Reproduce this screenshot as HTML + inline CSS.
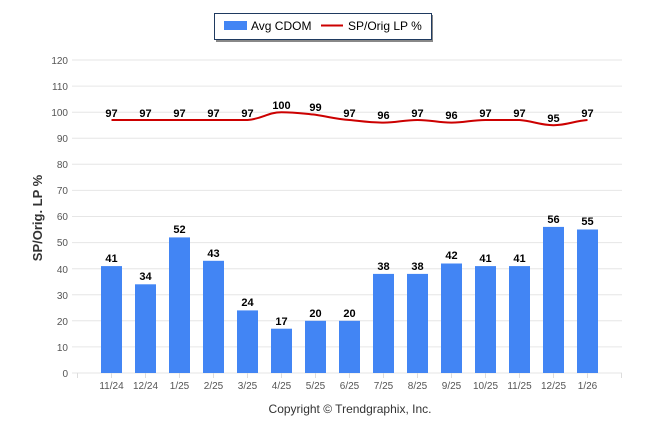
<!DOCTYPE html>
<html><head><meta charset="utf-8"><style>
html,body{margin:0;padding:0;background:#fff;}
svg{display:block;font-family:"Liberation Sans",sans-serif;}
</style></head><body>
<svg width="646" height="434" viewBox="0 0 646 434">
<g stroke="#e6e6e6" stroke-width="1">
<line x1="72" x2="622" y1="346.9" y2="346.9"/><line x1="72" x2="622" y1="320.8" y2="320.8"/>
<line x1="72" x2="622" y1="294.8" y2="294.8"/><line x1="72" x2="622" y1="268.7" y2="268.7"/>
<line x1="72" x2="622" y1="242.6" y2="242.6"/><line x1="72" x2="622" y1="216.5" y2="216.5"/>
<line x1="72" x2="622" y1="190.4" y2="190.4"/><line x1="72" x2="622" y1="164.3" y2="164.3"/>
<line x1="72" x2="622" y1="138.3" y2="138.3"/><line x1="72" x2="622" y1="112.2" y2="112.2"/>
<line x1="72" x2="622" y1="86.1" y2="86.1"/><line x1="72" x2="622" y1="60" y2="60"/>
<line x1="72" x2="622" y1="373" y2="373"/>
</g>
<g stroke="#ddd">
<line x1="77.5" x2="77.5" y1="373" y2="378"/><line x1="111.5" x2="111.5" y1="373" y2="378"/><line x1="145.5" x2="145.5" y1="373" y2="378"/><line x1="179.5" x2="179.5" y1="373" y2="378"/><line x1="213.5" x2="213.5" y1="373" y2="378"/><line x1="247.5" x2="247.5" y1="373" y2="378"/><line x1="281.5" x2="281.5" y1="373" y2="378"/><line x1="315.5" x2="315.5" y1="373" y2="378"/><line x1="349.5" x2="349.5" y1="373" y2="378"/><line x1="383.5" x2="383.5" y1="373" y2="378"/><line x1="417.5" x2="417.5" y1="373" y2="378"/><line x1="451.5" x2="451.5" y1="373" y2="378"/><line x1="485.5" x2="485.5" y1="373" y2="378"/><line x1="519.5" x2="519.5" y1="373" y2="378"/><line x1="553.5" x2="553.5" y1="373" y2="378"/><line x1="587.5" x2="587.5" y1="373" y2="378"/><line x1="621.5" x2="621.5" y1="373" y2="378"/>
</g>
<g font-size="10" fill="#555" text-anchor="end">
<text x="68" y="377">0</text><text x="68" y="351">10</text><text x="68" y="325">20</text><text x="68" y="299">30</text><text x="68" y="273">40</text><text x="68" y="246">50</text><text x="68" y="220">60</text><text x="68" y="194">70</text><text x="68" y="168">80</text><text x="68" y="142">90</text><text x="68" y="116">100</text><text x="68" y="90">110</text><text x="68" y="64">120</text>
</g>
<text transform="translate(42,218) rotate(-90)" font-size="13" font-weight="bold" fill="#333" text-anchor="middle">SP/Orig. LP %</text>
<g fill="#4285f4">
<rect x="101" y="266.1" width="21" height="106.9"/><rect x="135" y="284.3" width="21" height="88.7"/><rect x="169" y="237.4" width="21" height="135.6"/><rect x="203" y="260.8" width="21" height="112.2"/><rect x="237" y="310.4" width="21" height="62.6"/><rect x="271" y="328.7" width="21" height="44.3"/><rect x="305" y="320.8" width="21" height="52.2"/><rect x="339" y="320.8" width="21" height="52.2"/><rect x="373" y="273.9" width="21" height="99.1"/><rect x="407" y="273.9" width="21" height="99.1"/><rect x="441" y="263.5" width="21" height="109.5"/><rect x="475" y="266.1" width="21" height="106.9"/><rect x="509" y="266.1" width="21" height="106.9"/><rect x="543" y="226.9" width="21" height="146.1"/><rect x="577" y="229.5" width="21" height="143.5"/>
</g>
<g font-size="11" font-weight="bold" fill="#000" text-anchor="middle">
<text x="111.5" y="262">41</text><text x="145.5" y="280">34</text><text x="179.5" y="233">52</text><text x="213.5" y="257">43</text><text x="247.5" y="306">24</text><text x="281.5" y="325">17</text><text x="315.5" y="317">20</text><text x="349.5" y="317">20</text><text x="383.5" y="270">38</text><text x="417.5" y="270">38</text><text x="451.5" y="259">42</text><text x="485.5" y="262">41</text><text x="519.5" y="262">41</text><text x="553.5" y="223">56</text><text x="587.5" y="225">55</text>
</g>
<path d="M111.5,120 L145.5,120 L179.5,120 L213.5,120 L247.5,120 C262,119 268,112.2 281.5,112.2 C295,112.2 302,113.5 315.5,114.8 C330,117 336,119 349.5,120 C364,121.5 370,122.6 383.5,122.6 C397,122.6 404,120 417.5,120 C431,120 438,122.6 451.5,122.6 C465,122.6 472,120 485.5,120 C499,120 506,120 519.5,120 C533,121 540,125.2 553.5,125.2 C567,125.2 574,121 587.5,120" fill="none" stroke="#c00" stroke-width="2"/>
<g font-size="11" font-weight="bold" fill="#000" text-anchor="middle">
<text x="111.5" y="117">97</text><text x="145.5" y="117">97</text><text x="179.5" y="117">97</text><text x="213.5" y="117">97</text><text x="247.5" y="117">97</text><text x="281.5" y="109">100</text><text x="315.5" y="111">99</text><text x="349.5" y="117">97</text><text x="383.5" y="119">96</text><text x="417.5" y="117">97</text><text x="451.5" y="119">96</text><text x="485.5" y="117">97</text><text x="519.5" y="117">97</text><text x="553.5" y="122">95</text><text x="587.5" y="117">97</text>
</g>
<g font-size="10" fill="#555" text-anchor="middle">
<text x="111.5" y="389">11/24</text><text x="145.5" y="389">12/24</text><text x="179.5" y="389">1/25</text><text x="213.5" y="389">2/25</text><text x="247.5" y="389">3/25</text><text x="281.5" y="389">4/25</text><text x="315.5" y="389">5/25</text><text x="349.5" y="389">6/25</text><text x="383.5" y="389">7/25</text><text x="417.5" y="389">8/25</text><text x="451.5" y="389">9/25</text><text x="485.5" y="389">10/25</text><text x="519.5" y="389">11/25</text><text x="553.5" y="389">12/25</text><text x="587.5" y="389">1/26</text>
</g>
<text x="350" y="413" font-size="12" fill="#333" text-anchor="middle">Copyright © Trendgraphix, Inc.</text>
<rect x="216" y="15" width="217" height="27" fill="#888"/>
<rect x="214.5" y="13.5" width="217" height="26" fill="#fff" stroke="#1f3a60" stroke-width="1"/>
<rect x="224" y="21" width="23" height="9" fill="#4285f4"/>
<text x="251" y="30" font-size="12" fill="#000">Avg CDOM</text>
<line x1="321" x2="343" y1="25.5" y2="25.5" stroke="#c00" stroke-width="2"/>
<text x="348" y="30" font-size="12" fill="#000">SP/Orig LP %</text>
</svg>
</body></html>
